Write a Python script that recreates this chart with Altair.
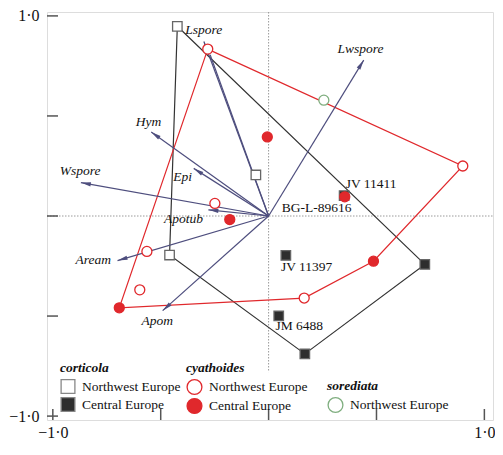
import math
import altair as alt
import pandas as pd

# ---------------- data ----------------
regions = ["Northwest Europe", "Central Europe"]

cort_nw_x = [-0.423, -0.059, -0.459]
cort_nw_y = [0.948, 0.205, -0.195]
cort_ce_x = [0.350, 0.080, 0.047, 0.168, 0.724]
cort_ce_y = [0.102, -0.197, -0.499, -0.689, -0.242]
cort_hull_x = [-0.423, 0.724, 0.168, -0.459, -0.423]
cort_hull_y = [0.948, -0.242, -0.689, -0.195, 0.948]

cyat_nw_x = [-0.282, -0.249, -0.564, -0.597, 0.165, 0.900]
cyat_nw_y = [0.834, 0.063, -0.177, -0.369, -0.410, 0.250]
cyat_ce_x = [-0.006, -0.180, -0.692, 0.486, 0.353]
cyat_ce_y = [0.395, -0.018, -0.459, -0.226, 0.096]
cyat_hull_x = [-0.282, 0.900, 0.486, 0.165, -0.692, -0.282]
cyat_hull_y = [0.834, 0.250, -0.226, -0.410, -0.459, 0.834]

sored_x = [0.256]
sored_y = [0.579]

vec_names = ["Lspore", "Hym", "Wspore", "Epi", "Apotub", "Aream", "Apom", "Lwspore"]
vec_x = [-0.300, -0.544, -0.870, -0.347, -0.279, -0.700, -0.491, 0.441]
vec_y = [0.872, 0.420, 0.167, 0.238, 0.031, -0.223, -0.473, 0.779]
vec_label_x = [-0.301, -0.557, -0.874, -0.399, -0.394, -0.813, -0.516, 0.426]
vec_label_y = [0.932, 0.470, 0.224, 0.197, -0.015, -0.218, -0.527, 0.834]

extra_vec_x = [-0.271]
extra_vec_y = [0.806]

sample_names = ["BG-L-89616", "JV 11411", "JV 11397", "JM 6488"]
sample_x = [0.223, 0.475, 0.176, 0.142]
sample_y = [0.042, 0.160, -0.255, -0.548]

tick_values = [-1.0, -0.5, 0.0, 0.5, 1.0]
label_values = [-1.0, 1.0]

# ---------------- styling ----------------
FONT = "Liberation Serif"
RED = "#e0282c"
DARK = "#2e2e2e"
GREY_LINE = "#333333"
OPEN_SQ = "#666666"
VEC = "#4e4e7e"
GREEN = "#7fae7f"
FRAME = "#555555"

W, H = 446, 408
XD = [-1.027, 1.040]
YD = [-1.0195, 1.0195]
PX_X = W / (XD[1] - XD[0])
PX_Y = H / (YD[1] - YD[0])

xscale = alt.Scale(domain=XD, nice=False, zero=False)
yscale = alt.Scale(domain=YD, nice=False, zero=False)

LABEL_EXPR = "datum.value > 0 ? '1·0' : '−1·0'"
xaxis = alt.Axis(values=label_values, ticks=False, domain=False, grid=False,
                 labelExpr=LABEL_EXPR, labelFont=FONT, labelFontSize=16,
                 labelColor="#111", labelPadding=4, labelFlush=False, title=None)
yaxis = alt.Axis(values=label_values, ticks=False, domain=False, grid=False,
                 labelExpr=LABEL_EXPR, labelFont=FONT, labelFontSize=16,
                 labelColor="#111", labelPadding=8, labelFlush=False, title=None)


def X(f="x"):
    return alt.X(f"{f}:Q", scale=xscale, axis=xaxis, title=None)


def Y(f="y"):
    return alt.Y(f"{f}:Q", scale=yscale, axis=yaxis, title=None)


# ---------------- tables ----------------
cort = pd.DataFrame({
    "x": cort_nw_x + cort_ce_x,
    "y": cort_nw_y + cort_ce_y,
    "region": [regions[0]] * len(cort_nw_x) + [regions[1]] * len(cort_ce_x),
})
cyat = pd.DataFrame({
    "x": cyat_nw_x + cyat_ce_x,
    "y": cyat_nw_y + cyat_ce_y,
    "region": [regions[0]] * len(cyat_nw_x) + [regions[1]] * len(cyat_ce_x),
})
sored = pd.DataFrame({"x": sored_x, "y": sored_y, "region": [regions[0]] * len(sored_x)})

cort_hull = pd.DataFrame({"x": cort_hull_x, "y": cort_hull_y, "i": range(len(cort_hull_x))})
cyat_hull = pd.DataFrame({"x": cyat_hull_x, "y": cyat_hull_y, "i": range(len(cyat_hull_x))})

vecs = pd.DataFrame({
    "name": vec_names, "x": vec_x, "y": vec_y, "lx": vec_label_x, "ly": vec_label_y,
})
vecs["x0"] = 0.0
vecs["y0"] = 0.0
ang = [math.atan2(vx * PX_X, vy * PX_Y) for vx, vy in zip(vec_x, vec_y)]
vecs["angle"] = [(math.degrees(a) + 360) % 360 for a in ang]
HEAD = 5.0
vecs["hx"] = [vx - HEAD * math.sin(a) / PX_X for vx, a in zip(vec_x, ang)]
vecs["hy"] = [vy - HEAD * math.cos(a) / PX_Y for vy, a in zip(vec_y, ang)]

extra = pd.DataFrame({"x": extra_vec_x, "y": extra_vec_y, "x0": [0.0], "y0": [0.0]})

samples = pd.DataFrame({"name": sample_names, "x": sample_x, "y": sample_y})
ticks = pd.DataFrame({"v": tick_values})

# ---------------- layers ----------------
zero_h = alt.Chart(pd.DataFrame({"y": [0.0], "xa": [XD[0]], "xb": [XD[1]]})).mark_rule(
    color="#9a9a9a", strokeWidth=1, strokeDash=[1.5, 1.5]
).encode(y=Y("y"), x=X("xa"), x2="xb:Q")

zero_v = alt.Chart(pd.DataFrame({"x": [0.0], "ya": [YD[1]], "yb": [-0.78]})).mark_rule(
    color="#9a9a9a", strokeWidth=1, strokeDash=[1.5, 1.5]
).encode(x=X("x"), y=Y("ya"), y2="yb:Q")

xticks = alt.Chart(ticks).mark_rule(color=FRAME, strokeWidth=1.5).encode(
    x=X("v"), y=alt.value(H), y2=alt.value(H - 11))
yticks = alt.Chart(ticks).mark_rule(color=FRAME, strokeWidth=1.5).encode(
    y=Y("v"), x=alt.value(0), x2=alt.value(11))

cort_hull_l = alt.Chart(cort_hull).mark_line(color=GREY_LINE, strokeWidth=1.2).encode(
    x=X(), y=Y(), order="i:Q")
cyat_hull_l = alt.Chart(cyat_hull).mark_line(color=RED, strokeWidth=1.2).encode(
    x=X(), y=Y(), order="i:Q")

vec_lines = alt.Chart(vecs).mark_rule(color=VEC, strokeWidth=1.2).encode(
    x=X("x0"), y=Y("y0"), x2="x:Q", y2="y:Q")
extra_lines = alt.Chart(extra).mark_rule(color=VEC, strokeWidth=1.2).encode(
    x=X("x0"), y=Y("y0"), x2="x:Q", y2="y:Q")
heads = alt.Chart(vecs).mark_point(
    shape="M0,-1L-0.42,1L0.42,1Z", filled=True, color=VEC, size=100, opacity=1
).encode(x=X("hx"), y=Y("hy"), angle=alt.Angle("angle:Q", scale=None))

vec_text = alt.Chart(vecs).mark_text(
    font=FONT, fontSize=13.5, fontStyle="italic", color="#111", align="center", baseline="middle"
).encode(x=X("lx"), y=Y("ly"), text="name:N")

sample_text = alt.Chart(samples).mark_text(
    font=FONT, fontSize=13.5, color="#111", align="center", baseline="middle"
).encode(x=X(), y=Y(), text="name:N")

LEG = dict(orient="none", direction="vertical", padding=0, offset=0,
           titleFont=FONT, titleFontSize=13.5, titleFontStyle="italic", titleFontWeight="bold",
           titleColor="#111", titlePadding=4, titleAnchor="start",
           labelFont=FONT, labelFontSize=13.5, labelColor="#111", labelOffset=6,
           rowPadding=-2, symbolStrokeWidth=1.3)

cort_pts = alt.Chart(cort).mark_point(filled=True, shape="square", size=90, opacity=1,
                                      stroke=OPEN_SQ, strokeWidth=1.3).encode(
    x=X(), y=Y(),
    fill=alt.Fill("region:N", scale=alt.Scale(domain=regions, range=["white", DARK]),
                  legend=alt.Legend(title="corticola", legendX=13, legendY=349,
                                    symbolType="square", symbolSize=190,
                                    symbolStrokeColor="#888", **LEG)),
)
cyat_pts = alt.Chart(cyat).mark_point(filled=True, shape="circle", size=100, opacity=1,
                                      stroke=RED, strokeWidth=1.3).encode(
    x=X(), y=Y(),
    fill=alt.Fill("region:N", scale=alt.Scale(domain=regions, range=["white", RED]),
                  legend=alt.Legend(title="cyathoides", legendX=139, legendY=349,
                                    symbolType="circle", symbolSize=220,
                                    symbolStrokeColor=RED, **LEG)),
)
sored_pts = alt.Chart(sored).mark_point(filled=True, shape="circle", size=100, opacity=1,
                                        stroke=GREEN, strokeWidth=1.3).encode(
    x=X(), y=Y(),
    fill=alt.Fill("region:N", scale=alt.Scale(domain=[regions[0]], range=["white"]),
                  legend=alt.Legend(title="sorediata", legendX=280, legendY=367,
                                    symbolType="circle", symbolSize=220,
                                    symbolStrokeColor=GREEN, **LEG)),
)

chart = alt.layer(
    zero_h, zero_v, xticks, yticks,
    cort_hull_l, cyat_hull_l, vec_lines, extra_lines, heads,
    cort_pts, cyat_pts, sored_pts, vec_text, sample_text,
).resolve_scale(fill="independent").properties(
    width=W, height=H,
    autosize=alt.AutoSizeParams(type="none"),
    padding={"left": 39, "top": 4, "right": 2, "bottom": 21},
).configure_view(stroke=FRAME, strokeWidth=1.5).configure(background="white")

chart.save("out.html", embed_options={"renderer": "svg", "actions": False})
